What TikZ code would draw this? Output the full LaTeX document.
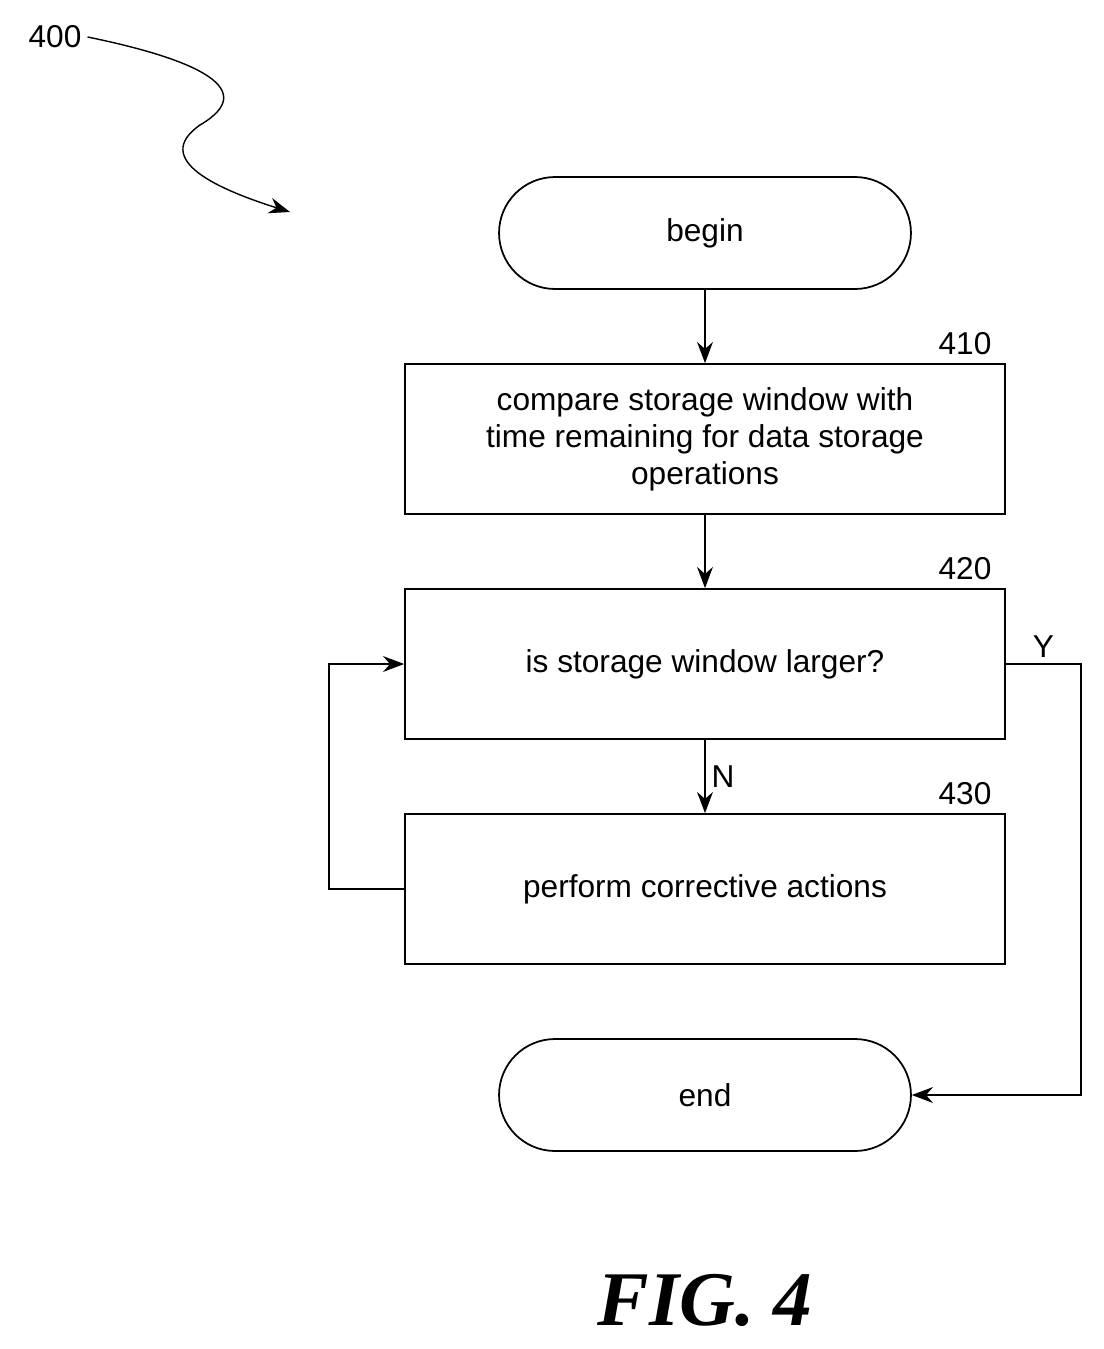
\documentclass[tikz,border=0pt]{standalone}
\usepackage{fontspec}
\setmainfont{Liberation Sans}
\newfontfamily\figfont{Liberation Serif}
\usetikzlibrary{arrows.meta,positioning}
\begin{document}
\begin{tikzpicture}[x=0.02cm,y=-0.02cm,
                    box/.style={draw, line width=1pt, minimum width=12cm, minimum height=3cm,
                                align=center, font=\fontsize{18}{21}\selectfont},
                    term/.style={draw, line width=1pt, rounded corners=1.12cm, minimum width=8.24cm,
                                 minimum height=2.24cm, font=\fontsize{18}{21}\selectfont},
                    num/.style={font=\fontsize{18}{21}\selectfont},
                    flow/.style={line width=0.8pt, -{Stealth[length=12pt,width=9pt]}}]
    \useasboundingbox (0,0) rectangle (1103,1349);
    \node[num] (figNum) at (55,37) {400};
    \node[term] (begin) at (705,233) {begin};
    \node[box] (compare) at (705,439) {compare storage window with\\time remaining for data storage\\operations};
    \node[num] (compareNum) at (965,344) {410};
    \node[box] (larger) at (705,664) {is storage window larger?};
    \node[num] (largerNum) at (965,569) {420};
    \node[box] (corrective) at (705,889) {perform corrective actions};
    \node[num] (correctiveNum) at (965,794) {430};
    \node[term] (end) at (705,1095) {end};
    \coordinate (squigEnd) at (290,212);
    \node[font=\figfont\bfseries\itshape\fontsize{44}{48}\selectfont] (figLabel) at (705,1300) {FIG. 4};

    % reference arrow
    \draw[flow] (figNum.east) .. controls (200,60) and (260,90) .. (200,125)
        .. controls (150,160) and (220,190) .. (squigEnd);
    % main flow
    \draw[flow] (begin) -- (compare);
    \draw[flow] (compare) -- (larger);
    \draw[flow] (larger) -- node[right, num] {N} (corrective);
    \draw[flow] (larger.east) -- node[above, num, pos=0.5] {Y} ++(75,0) |- (end.east);
    \draw[flow] (corrective.west) -- ++(-75,0) |- (larger.west);
\end{tikzpicture}
\end{document}
